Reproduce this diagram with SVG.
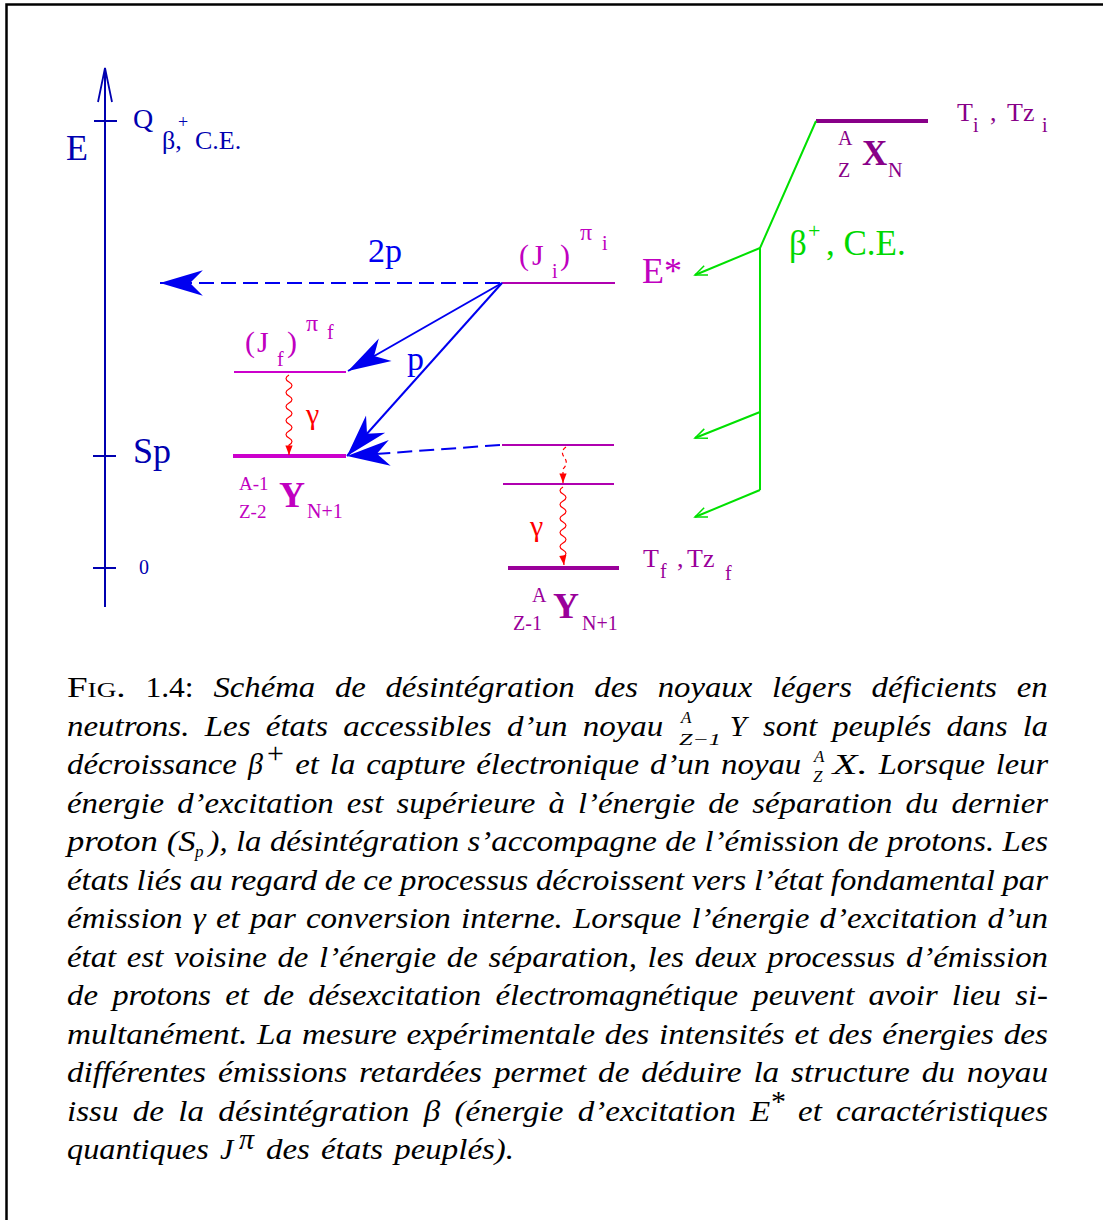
<svg xmlns="http://www.w3.org/2000/svg" width="1103" height="1220" viewBox="0 0 1103 1220">
<defs>
<style>
.t{font-family:"Liberation Serif","Times New Roman",serif}
.ax{fill:#0000b0}
.bl{fill:#0000f0}
.mg{fill:#c000c0}
.pu{fill:#9a009a}
.dp{fill:#880088}
.gr{fill:#00d800}
.rd{fill:#ff0000}
.cap{font-family:"Liberation Serif","Times New Roman",serif;font-style:italic;font-size:30px;fill:#000}
.capu{font-family:"Liberation Serif","Times New Roman",serif;font-size:30px;fill:#000}
.sc{font-size:22px}
.scr{font-size:17px}
</style>
<marker id="bh" markerUnits="userSpaceOnUse" markerWidth="50" markerHeight="30" viewBox="-42 -14 44 28" refX="0" refY="0" orient="auto">
<path d="M0,0 L-40,-12 L-28,0 L-40,12 Z" fill="#0000f0"/>
</marker>
<marker id="gh" markerUnits="userSpaceOnUse" markerWidth="20" markerHeight="14" viewBox="-14 -7 16 14" refX="0" refY="0" orient="auto">
<path d="M-12,-5 L0,0 L-12,5" fill="none" stroke="#00e000" stroke-width="1.5"/>
</marker>
<marker id="rh" markerUnits="userSpaceOnUse" markerWidth="12" markerHeight="10" viewBox="-9 -4 10 8" refX="0" refY="0" orient="auto">
<path d="M0,0 L-8,-3 L-8,3 Z" fill="#ff0000"/>
</marker>
</defs>
<rect width="1103" height="1220" fill="#fff"/>
<path d="M6.5,1225 L6.5,4.5 L1110,4.5" fill="none" stroke="#000" stroke-width="2.5"/>

<g id="axis">
<line x1="105" y1="607" x2="105" y2="68" stroke="#0000b0" stroke-width="2"/>
<path d="M98,102 L105,68 L112,102" fill="none" stroke="#0000b0" stroke-width="1.8"/>
<line x1="94" y1="121" x2="117" y2="121" stroke="#0000b0" stroke-width="2"/>
<line x1="93" y1="456" x2="116" y2="456" stroke="#0000b0" stroke-width="2"/>
<line x1="93" y1="568" x2="116" y2="568" stroke="#0000b0" stroke-width="2"/>
<text class="t ax" x="66" y="160" font-size="36">E</text>
<text class="t ax" x="133" y="128" font-size="28">Q</text>
<text class="t ax" x="162" y="149" font-size="26">β,</text>
<text class="t ax" x="178" y="128" font-size="18">+</text>
<text class="t ax" x="195" y="149" font-size="26">C.E.</text>
<text class="t ax" x="133" y="463" font-size="36">Sp</text>
<text class="t ax" x="139" y="574" font-size="20">0</text>
</g>

<g id="level-X">
<line x1="816" y1="121" x2="928" y2="121" stroke="#880088" stroke-width="4"/>
<text class="t dp" x="838" y="145" font-size="20">A</text>
<text class="t dp" x="838" y="177" font-size="20">Z</text>
<text class="t dp" x="862" y="165" font-size="35" font-weight="bold">X</text>
<text class="t dp" x="888" y="177" font-size="20">N</text>
<text class="t dp" x="957" y="121" font-size="26">T</text>
<text class="t dp" x="973" y="132" font-size="20">i</text>
<text class="t dp" x="990" y="121" font-size="26">,</text>
<text class="t dp" x="1007" y="121" font-size="26">Tz</text>
<text class="t dp" x="1042" y="132" font-size="20">i</text>
</g>

<g id="level-Ji">
<line x1="502" y1="283" x2="615" y2="283" stroke="#b000b0" stroke-width="2"/>
<text class="t mg" x="519" y="265" font-size="30">(</text>
<text class="t mg" x="532" y="265" font-size="30">J</text>
<text class="t mg" x="552" y="278" font-size="20">i</text>
<text class="t mg" x="560" y="265" font-size="30">)</text>
<text class="t mg" x="580" y="240" font-size="24">π</text>
<text class="t mg" x="602" y="250" font-size="20">i</text>
<text class="t mg" x="642" y="283" font-size="36">E*</text>
</g>

<g id="level-Jf">
<line x1="234" y1="372" x2="346" y2="372" stroke="#cc00cc" stroke-width="2"/>
<text class="t mg" x="245" y="352" font-size="30">(</text>
<text class="t mg" x="257" y="352" font-size="30">J</text>
<text class="t mg" x="277" y="366" font-size="20">f</text>
<text class="t mg" x="287" y="352" font-size="30">)</text>
<text class="t mg" x="306" y="331" font-size="24">π</text>
<text class="t mg" x="327" y="339" font-size="20">f</text>
</g>

<g id="level-Sp-Y">
<line x1="233" y1="456" x2="346" y2="456" stroke="#cc00cc" stroke-width="4"/>
<text class="t mg" x="239" y="490" font-size="19">A-1</text>
<text class="t mg" x="239" y="518" font-size="19">Z-2</text>
<text class="t mg" x="279" y="507" font-size="36" font-weight="bold">Y</text>
<text class="t mg" x="307" y="518" font-size="20">N+1</text>
</g>

<g id="level-445">
<line x1="502" y1="445" x2="614" y2="445" stroke="#b000b0" stroke-width="2"/>
</g>
<g id="level-484">
<line x1="503" y1="484" x2="614" y2="484" stroke="#b000b0" stroke-width="2"/>
</g>

<g id="level-ground">
<line x1="508" y1="568" x2="619" y2="568" stroke="#9a009a" stroke-width="4"/>
<text class="t pu" x="532" y="602" font-size="20">A</text>
<text class="t pu" x="513" y="630" font-size="20">Z-1</text>
<text class="t pu" x="553" y="618" font-size="36" font-weight="bold">Y</text>
<text class="t pu" x="582" y="630" font-size="20">N+1</text>
<text class="t pu" x="643" y="567" font-size="26">T</text>
<text class="t pu" x="660" y="578" font-size="20">f</text>
<text class="t pu" x="677" y="567" font-size="26">,</text>
<text class="t pu" x="687" y="567" font-size="26">Tz</text>
<text class="t pu" x="725" y="580" font-size="20">f</text>
</g>

<g id="connectors">
<line x1="500" y1="283" x2="160" y2="283" stroke="#0000f0" stroke-width="2" stroke-dasharray="15 7" marker-end="url(#bh)"/>
<text class="t bl" x="368" y="262" font-size="34">2p</text>
<line x1="502" y1="283" x2="348" y2="371" stroke="#0000f0" stroke-width="2" marker-end="url(#bh)"/>
<line x1="502" y1="283" x2="347" y2="456" stroke="#0000f0" stroke-width="2" marker-end="url(#bh)"/>
<text class="t bl" x="407" y="370" font-size="34">p</text>
<line x1="500" y1="445" x2="347" y2="456" stroke="#0000f0" stroke-width="2" stroke-dasharray="15 7" marker-end="url(#bh)"/>

<path d="M816,121 L760,248 L760,490" fill="none" stroke="#00e000" stroke-width="2"/>
<line x1="760" y1="248" x2="695" y2="275" stroke="#00e000" stroke-width="2" marker-end="url(#gh)"/>
<line x1="760" y1="412" x2="695" y2="438" stroke="#00e000" stroke-width="2" marker-end="url(#gh)"/>
<line x1="760" y1="490" x2="695" y2="517" stroke="#00e000" stroke-width="2" marker-end="url(#gh)"/>
<text class="t gr" x="789" y="255" font-size="35">β</text>
<text class="t gr" x="808" y="238" font-size="22">+</text>
<text class="t gr" x="826" y="255" font-size="35">, C.E.</text>

<path d="M289,375 q-6,3.5 0,7 q6,3.5 0,7 q-6,3.5 0,7 q6,3.5 0,7 q-6,3.5 0,7 q6,3.5 0,7 q-6,3.5 0,7 q6,3.5 0,7 q-6,3.5 0,7 q6,3.5 0,7 L289,455" fill="none" stroke="#ff0000" stroke-width="1.2" marker-end="url(#rh)"/>
<text class="t rd" x="306" y="424" font-size="30">γ</text>

<path d="M566,447 q-6,4 -2,10 q5,6 -1,12 L563,483" fill="none" stroke="#ff0000" stroke-width="1.2" stroke-dasharray="4 3" marker-end="url(#rh)"/>
<path d="M563,487 q-6,3.5 0,7 q6,3.5 0,7 q-6,3.5 0,7 q6,3.5 0,7 q-6,3.5 0,7 q6,3.5 0,7 q-6,3.5 0,7 q6,3.5 0,7 q-6,3.5 0,7 q6,3.5 0,7 L564,565" fill="none" stroke="#ff0000" stroke-width="1.2" marker-end="url(#rh)"/>
<text class="t rd" x="530" y="536" font-size="30">γ</text>
</g>

<g id="caption">
<text class="capu" x="67" y="697" textLength="58.6" lengthAdjust="spacingAndGlyphs">F<tspan class="sc">IG</tspan>.</text>
<text class="capu" x="145.4" y="697" textLength="48.2" lengthAdjust="spacingAndGlyphs">1.4:</text>
<text class="cap" x="213.4" y="697" word-spacing="10.5" textLength="834.3" lengthAdjust="spacingAndGlyphs">Schéma de désintégration des noyaux légers déficients en</text>

<text class="cap" x="67" y="735.5" word-spacing="6.4" textLength="596.3" lengthAdjust="spacingAndGlyphs">neutrons. Les états accessibles d’un noyau</text>
<text class="cap scr" x="681" y="723">A</text>
<text class="cap scr" x="679" y="745" textLength="42" lengthAdjust="spacingAndGlyphs">Z−1</text>
<text class="cap" x="729.7" y="735.5">Y</text>
<text class="cap" x="763.1" y="735.5" word-spacing="6.4" textLength="284.9" lengthAdjust="spacingAndGlyphs">sont peuplés dans la</text>

<text class="cap" x="67" y="774" textLength="169.9" lengthAdjust="spacingAndGlyphs">décroissance</text>
<text class="cap" x="248" y="774">β</text>
<text class="capu" x="267" y="763" font-size="19">+</text>
<text class="cap" x="295.2" y="774" word-spacing="2.5" textLength="506.1" lengthAdjust="spacingAndGlyphs">et la capture électronique d’un noyau</text>
<text class="cap scr" x="814" y="762">A</text>
<text class="cap scr" x="813" y="782">Z</text>
<text class="cap" x="832.5" y="774" textLength="35.2" lengthAdjust="spacingAndGlyphs">X.</text>
<text class="cap" x="878.8" y="774" word-spacing="2.5" textLength="169.2" lengthAdjust="spacingAndGlyphs">Lorsque leur</text>

<text class="cap" x="67" y="812.5" word-spacing="4.5" textLength="981" lengthAdjust="spacingAndGlyphs">énergie d’excitation est supérieure à l’énergie de séparation du dernier</text>

<text class="cap" x="67" y="851" word-spacing="0.2" textLength="128.5" lengthAdjust="spacingAndGlyphs">proton (S</text>
<text class="cap scr" x="195" y="857">p</text>
<text class="cap" x="208.5" y="851" word-spacing="0.2" textLength="839.5" lengthAdjust="spacingAndGlyphs">), la désintégration s’accompagne de l’émission de protons. Les</text>

<text class="cap" x="67" y="889.5" word-spacing="-0.5" textLength="981" lengthAdjust="spacingAndGlyphs">états liés au regard de ce processus décroissent vers l’état fondamental par</text>
<text class="cap" x="67" y="928" word-spacing="1.7" textLength="981" lengthAdjust="spacingAndGlyphs">émission γ et par conversion interne. Lorsque l’énergie d’excitation d’un</text>
<text class="cap" x="67" y="966.5" word-spacing="2.3" textLength="981" lengthAdjust="spacingAndGlyphs">état est voisine de l’énergie de séparation, les deux processus d’émission</text>
<text class="cap" x="67" y="1005" word-spacing="5.5" textLength="981" lengthAdjust="spacingAndGlyphs">de protons et de désexcitation électromagnétique peuvent avoir lieu si-</text>
<text class="cap" x="67" y="1043.5" word-spacing="1.3" textLength="981" lengthAdjust="spacingAndGlyphs">multanément. La mesure expérimentale des intensités et des énergies des</text>
<text class="cap" x="67" y="1082" word-spacing="3.2" textLength="981" lengthAdjust="spacingAndGlyphs">différentes émissions retardées permet de déduire la structure du noyau</text>

<text class="cap" x="67" y="1120.5" word-spacing="5.5" textLength="703.2" lengthAdjust="spacingAndGlyphs">issu de la désintégration β (énergie d’excitation E</text>
<text class="capu" x="771" y="1111" font-size="19">*</text>
<text class="cap" x="798.1" y="1120.5" word-spacing="5.5" textLength="249.9" lengthAdjust="spacingAndGlyphs">et caractéristiques</text>

<text class="cap" x="67" y="1159" textLength="141.8" lengthAdjust="spacingAndGlyphs">quantiques</text>
<text class="cap" x="219.9" y="1159">J</text>
<text class="cap" x="239" y="1149" font-size="18">π</text>
<text class="cap" x="266" y="1159" word-spacing="2.6" textLength="248" lengthAdjust="spacingAndGlyphs">des états peuplés).</text>
</g>
</svg>
